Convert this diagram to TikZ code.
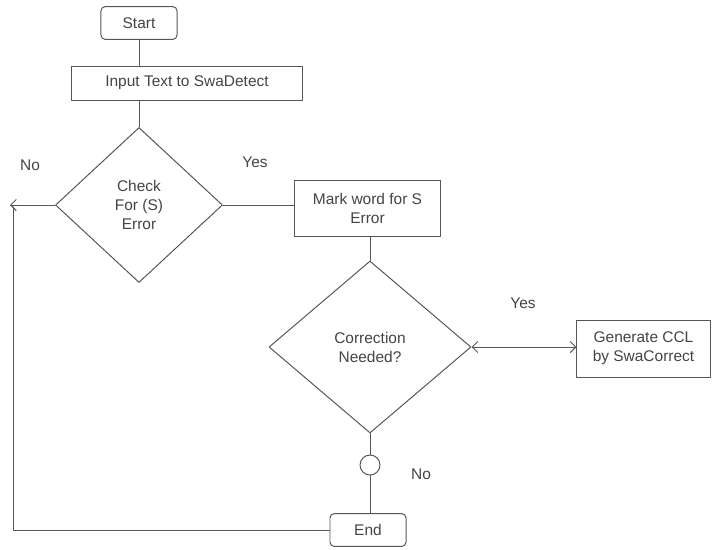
\documentclass[tikz,border=0pt]{standalone}
\usepackage{fontspec}
\setmainfont{Liberation Sans}
\usetikzlibrary{shapes.geometric,arrows.meta}
\definecolor{linegray}{HTML}{555555}
\definecolor{textgray}{HTML}{444444}
\tikzset{
  box/.style={draw=linegray, rectangle, align=center, inner sep=2pt},
  terminal/.style={box, rounded corners=3pt, minimum width=1.9cm, minimum height=0.82cm},
  decision/.style={draw=linegray, diamond, align=center, inner sep=0pt},
  junction/.style={draw=linegray, circle, minimum size=0.5cm, inner sep=0pt},
  answer/.style={text=textgray}
}
\begin{document}
\begin{tikzpicture}[x=0.025cm, y=-0.025cm, font=\fontsize{11}{13.5}\selectfont, line width=0.7pt, line join=round, line cap=round, >={Straight Barb[length=4pt,width=8pt]}, every node/.append style={text=textgray}]
				\useasboundingbox (0,0) rectangle (712,549);
				\node[terminal] (start) at (139,23) {Start};
				\node[box, minimum width=5.75cm, minimum height=0.85cm] (input) at (187,83) {Input Text to SwaDetect};
				\node[decision, minimum width=4.175cm, minimum height=3.875cm] (check) at (139,205) {Check\\For (S)\\Error};
				\node[box, minimum width=3.625cm, minimum height=1.4cm] (mark) at (367.5,208) {Mark word for S\\Error};
				\node[decision, minimum width=5.05cm, minimum height=4.3cm] (corr) at (370,347) {Correction\\Needed?};
				\node[box, minimum width=3.325cm, minimum height=1.425cm] (gen) at (643.5,348.5) {Generate CCL\\by SwaCorrect};
				\node[junction] (junc) at (370,465) {};
				\node[terminal] (end) at (368,530) {End};
				\path
				(10,205) coordinate (back)
				(13,207) coordinate (loop)
				;
				\draw[linegray] (start) -- (start |- input.north);
				\draw[linegray] (check.north) -- (check.north |- input.south);
				\draw[linegray] (check.east) -- (check.east -| mark.west);
				\draw[linegray, ->] (check.west) -- (back);
				\draw[linegray] (end.west) -| (loop);
				\draw[linegray] (corr.north) -- (corr.north |- mark.south);
				\draw[linegray, <->] (corr.east) -- (corr.east -| gen.west);
				\draw[linegray] (corr.south) -- (junc.north);
				\draw[linegray] (junc.south) -- (junc |- end.north);
				\foreach \t/\x/\y in {No/30/165, Yes/255/162, Yes/523/303, No/421/474}{
					\node[answer] at (\x,\y) {\t};}
		\end{tikzpicture}
\end{document}
